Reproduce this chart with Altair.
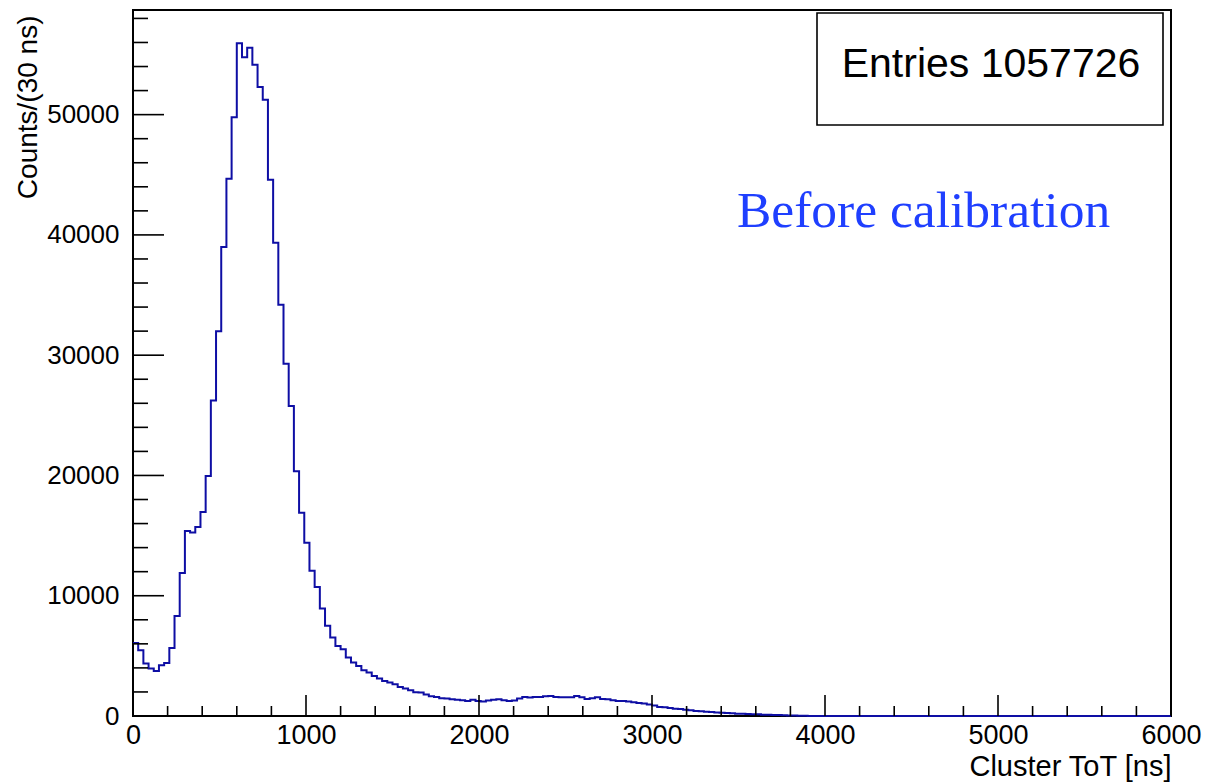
import altair as alt
import pandas as pd

# ---------------- data ----------------
BIN_WIDTH = 30  # ns per bin
counts = [
    6070, 5460, 4360, 3940, 3740, 4210, 4400, 5650, 8310, 11890,
    15380, 15250, 15710, 16960, 19950, 26240, 31980, 38990, 44670, 49790,
    55940, 54780, 55560, 54150, 52290, 51240, 44590, 39350, 34200, 29290,
    25770, 20340, 16900, 14410, 12080, 10720, 8930, 7510, 6520, 5820,
    5540, 4860, 4440, 4160, 3800, 3610, 3330, 3110, 2910, 2780,
    2640, 2410, 2280, 2140, 1970, 1960, 1780, 1640, 1580, 1470,
    1450, 1390, 1360, 1310, 1250, 1360, 1250, 1200, 1280, 1360,
    1390, 1310, 1250, 1280, 1450, 1580, 1530, 1580, 1580, 1640,
    1660, 1580, 1550, 1550, 1550, 1660, 1550, 1410, 1470, 1550,
    1410, 1390, 1310, 1250, 1250, 1200, 1140, 1080, 1030, 950,
    870, 750, 720, 670, 610, 580, 530, 470, 420, 390,
    360, 330, 300, 280, 250, 220, 190, 190, 170, 140,
    140, 110, 110, 80, 80, 60, 50, 40, 30, 20,
    10, 0, 0, 0, 0, 0, 0, 0, 0, 0,
    0, 0, 0, 0, 0, 0, 0, 0, 0, 0,
    0, 0, 0, 0, 0, 0, 0, 0, 0, 0,
    0, 0, 0, 0, 0, 0, 0, 0, 0, 0,
    0, 0, 0, 0, 0, 0, 0, 0, 0, 0,
    0, 0, 0, 0, 0, 0, 0, 0, 0, 0,
    0, 0, 0, 0, 0, 0, 0, 0, 0, 0,
]

x_major = [0, 1000, 2000, 3000, 4000, 5000, 6000]
x_minor = [200, 400, 600, 800, 1200, 1400, 1600, 1800, 2200, 2400, 2600, 2800,
           3200, 3400, 3600, 3800, 4200, 4400, 4600, 4800, 5200, 5400, 5600, 5800]
y_major = [0, 10000, 20000, 30000, 40000, 50000]
y_minor = [2000, 4000, 6000, 8000, 12000, 14000, 16000, 18000, 22000, 24000,
           26000, 28000, 32000, 34000, 36000, 38000, 42000, 44000, 46000, 48000,
           52000, 54000, 56000, 58000]

x_title = "Cluster ToT [ns]"
y_title = "Counts/(30 ns)"
entries_text = "Entries 1057726"
note_text = "Before calibration"
note_x = [3491]
note_y = [40650]

# ---------------- layout ----------------
W, H = 1038, 706
X_DOMAIN = [0, 6000]
Y_DOMAIN = [0, 58700]
SANS = "Liberation Sans, Arial, Helvetica, sans-serif"
SERIF = "Liberation Serif, Times New Roman, serif"

edges = [i * BIN_WIDTH for i in range(len(counts))] + [len(counts) * BIN_WIDTH]
vals = counts + [counts[-1]]
hist_df = pd.DataFrame({"tot": edges, "count": vals})

xs = alt.Scale(domain=X_DOMAIN, nice=False, zero=False)
ys = alt.Scale(domain=Y_DOMAIN, nice=False, zero=False)

x_axis = alt.Axis(
    values=x_major, format="d", ticks=False, domain=False, grid=False,
    labelFont=SANS, labelFontSize=27, labelColor="black", labelPadding=6,
    labelFlush=False, labelOverlap=False,
    title=x_title, titleFont=SANS, titleFontSize=29, titleFontWeight="normal",
    titleColor="black", titleAlign="right", titleAnchor="end",
    titleBaseline="alphabetic", titleX=W, titleY=59,
)
y_axis = alt.Axis(
    values=y_major, format="d", ticks=False, domain=False, grid=False,
    labelFont=SANS, labelFontSize=26, labelColor="black", labelPadding=14,
    labelOverlap=False, labelFlush=False,
    title=y_title, titleFont=SANS, titleFontSize=28, titleFontWeight="normal",
    titleColor="black", titleAngle=270, titleAlign="right", titleAnchor="end",
    titleBaseline="alphabetic", titleX=-97, titleY=5,
)

X = lambda: alt.X("tot:Q", scale=xs, axis=x_axis, title=x_title)
Y = lambda: alt.Y("count:Q", scale=ys, axis=y_axis, title=y_title)

hist = alt.Chart(hist_df).mark_line(
    interpolate="step-after", color="#0e0ea4", strokeWidth=2
).encode(x=X(), y=Y())

def xticks(values, length):
    df = pd.DataFrame({"tot": values})
    return alt.Chart(df).mark_rule(color="black", strokeWidth=1.6).encode(
        x=X(), y=alt.value(H), y2=alt.value(H - length),
    )

def yticks(values, length):
    df = pd.DataFrame({"count": values})
    return alt.Chart(df).mark_rule(color="black", strokeWidth=1.6).encode(
        y=Y(), x=alt.value(0), x2=alt.value(length),
    )

box = alt.Chart(alt.Data(values=[{"a": 1}])).mark_rect(
    fill="white", stroke="black", strokeWidth=1.6
).encode(
    x=alt.value(684), x2=alt.value(1030), y=alt.value(3), y2=alt.value(115)
)

entries = alt.Chart(alt.Data(values=[{"label": entries_text}])).mark_text(
    font=SANS, fontSize=41, color="black", align="center", baseline="alphabetic"
).encode(
    x=alt.value(858), y=alt.value(67), text="label:N"
)

note_df = pd.DataFrame({"tot": note_x, "count": note_y, "label": [note_text]})
note = alt.Chart(note_df).mark_text(
    font=SERIF, fontSize=51.5, color="#1f3fff", align="left", baseline="alphabetic"
).encode(x=X(), y=Y(), text="label:N")

chart = alt.layer(
    hist,
    xticks(x_major, 21), xticks(x_minor, 10),
    yticks(y_major, 31), yticks(y_minor, 15),
    box, entries, note,
).properties(
    width=W, height=H,
    autosize=alt.AutoSizeParams(type="none"),
    padding={"left": 133, "top": 10, "right": 34, "bottom": 66},
    background="white",
).configure_view(
    stroke="black", strokeWidth=2
)

chart.save("out.html", embed_options={"renderer": "svg", "actions": False})
